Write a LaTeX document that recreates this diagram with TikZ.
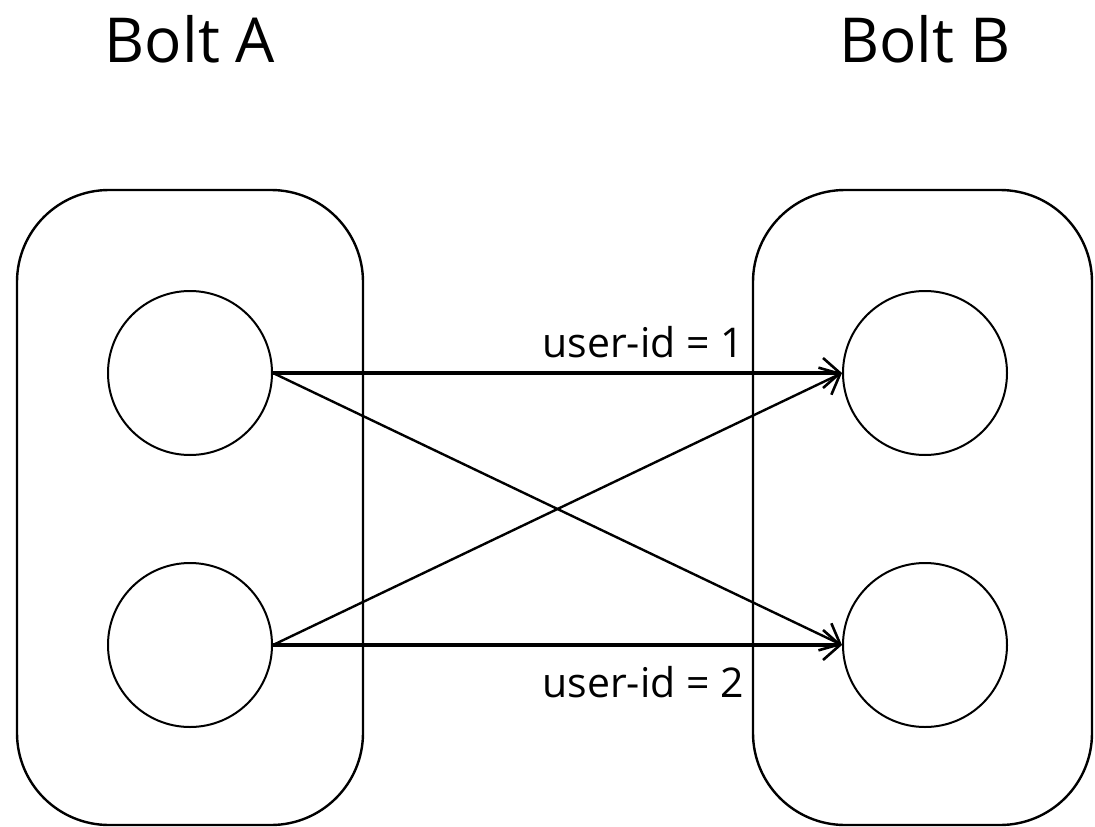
\documentclass[tikz,border=0pt]{standalone}
\usepackage{fontspec}
\setmainfont{Open Sans}
\usetikzlibrary{arrows.meta}
\begin{document}
\begin{tikzpicture}[x=1pt,y=-1pt,
  boltbox/.style={draw, line width=2.4pt, rounded corners=92pt},
  task/.style={draw, circle, line width=2pt, minimum size=164pt, inner sep=0pt},
  title/.style={font=\fontsize{62}{74}\selectfont, anchor=base},
  lbl/.style={font=\fontsize{41}{49}\selectfont, anchor=base east, inner sep=0pt},
  flow/.style={line width=3.6pt, -{Straight Barb[length=17pt,width=30pt,line width=2.6pt]}},
  cross/.style={line width=2.4pt, -{Straight Barb[length=17pt,width=30pt,line width=2.6pt]}}]
\useasboundingbox (0,0) rectangle (1095,827);
% the two bolts
\draw[boltbox] (17,190) rectangle (363,825);
\draw[boltbox] (753,190) rectangle (1092,825);
\node[title] (ta) at (190,62) {Bolt A};
\node[title] (tb) at (925,62) {Bolt B};
% tasks
\node[task] (a1) at (190,373) {};
\node[task] (a2) at (190,645) {};
\node[task] (b1) at (925,373) {};
\node[task] (b2) at (925,645) {};
% fields grouping
\draw[flow] (a1.east) -- (b1.west);
\draw[flow] (a2.east) -- (b2.west);
\draw[cross] (a1.east) -- (b2.west);
\draw[cross] (a2.east) -- (b1.west);
\node[lbl] (l1) at (744,357) {user-id = 1};
\node[lbl] (l2) at (744,697) {user-id = 2};
\end{tikzpicture}
\end{document}
